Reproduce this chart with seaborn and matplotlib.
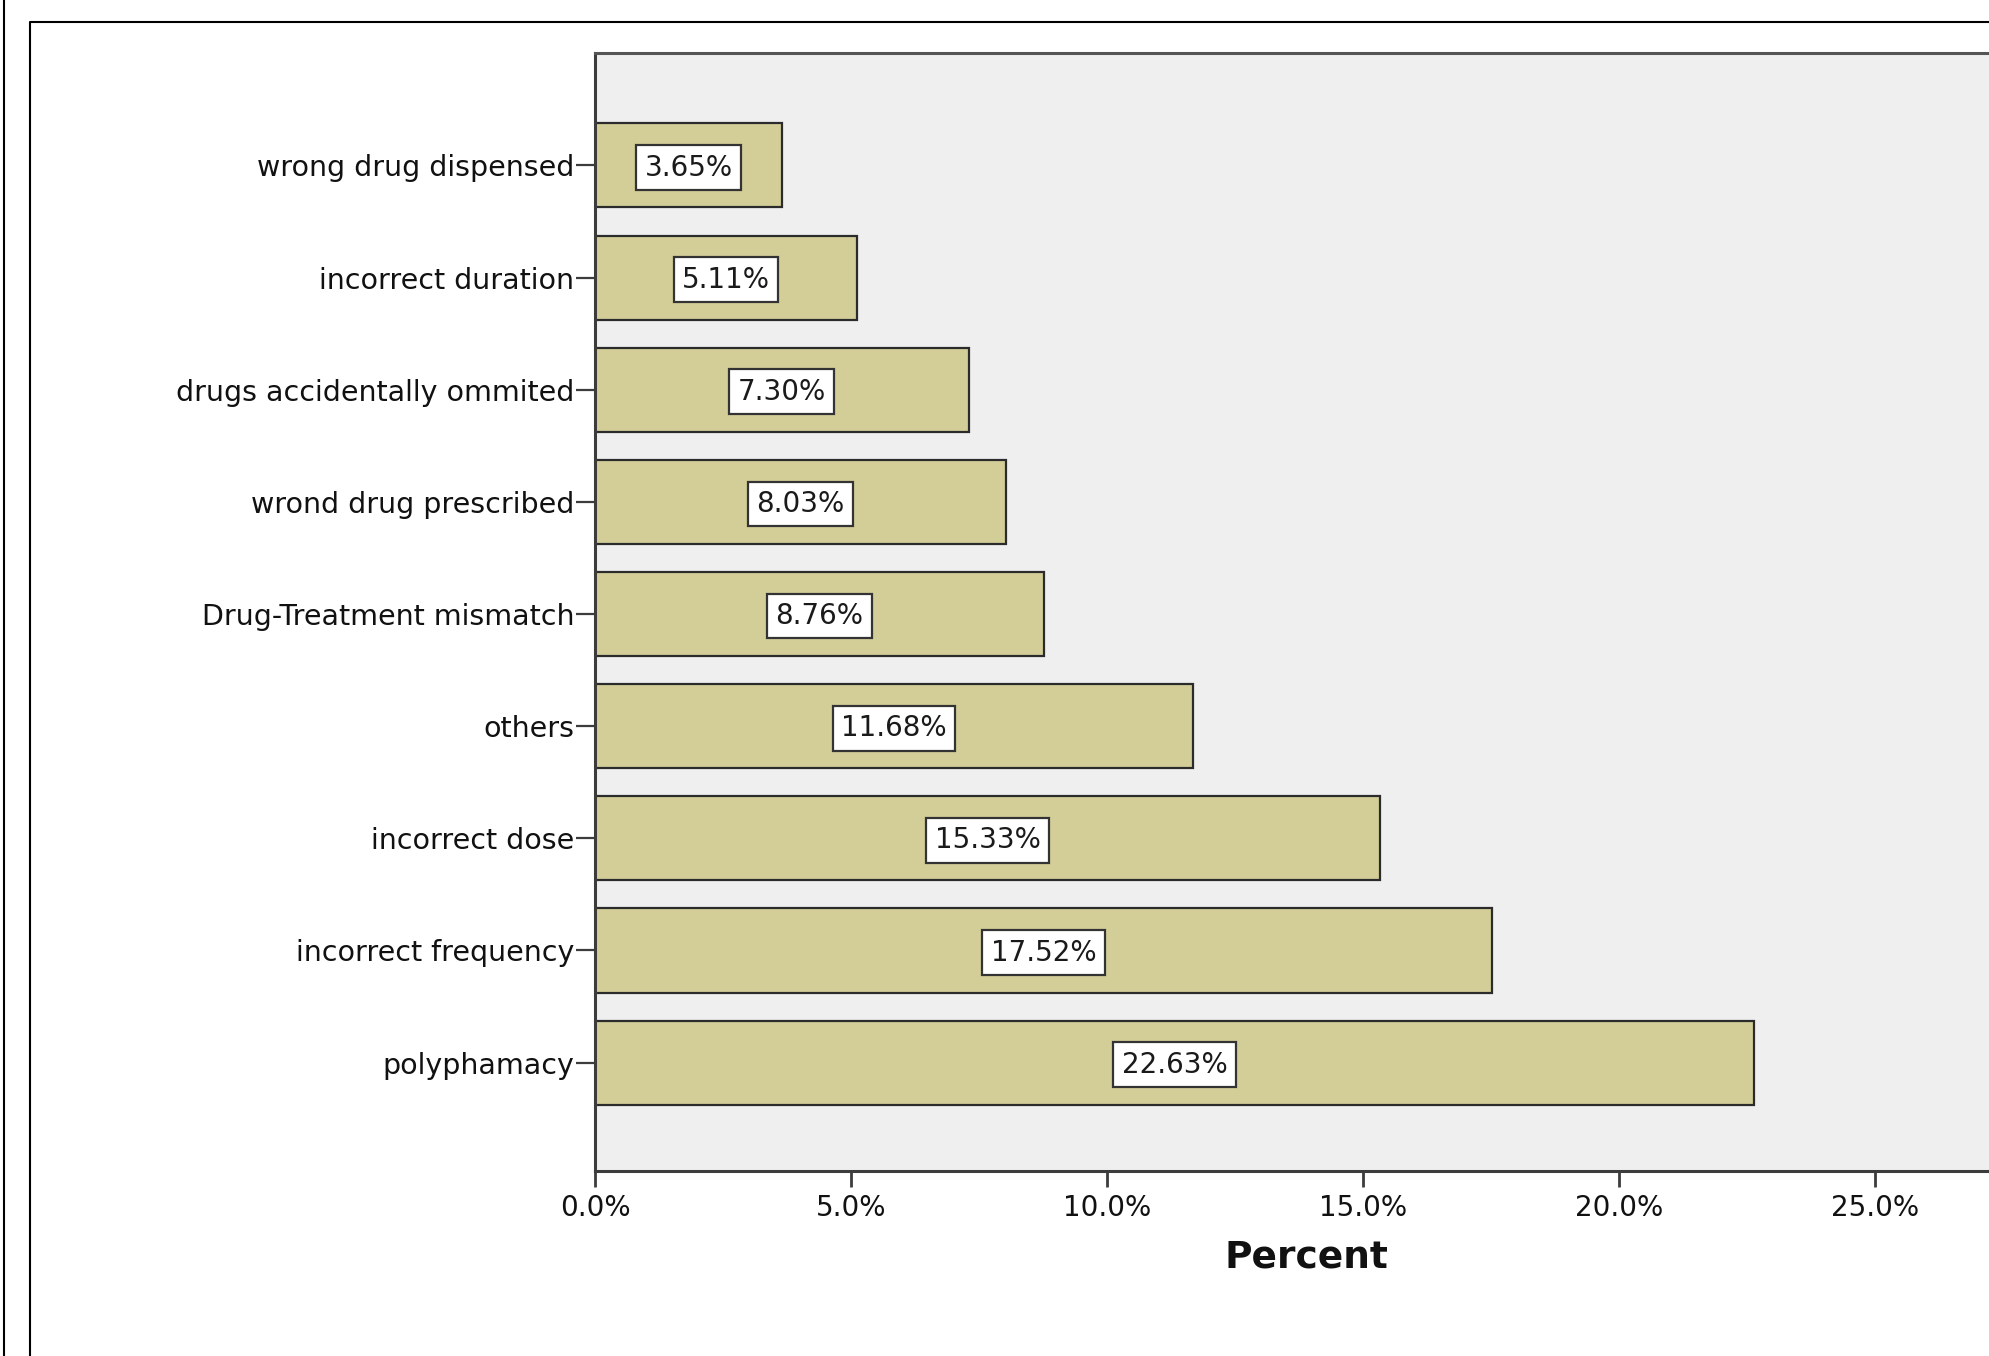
import matplotlib
matplotlib.use("Agg")
import matplotlib.pyplot as plt
from matplotlib.lines import Line2D
from matplotlib.ticker import PercentFormatter
import seaborn as sns

# Data (top to bottom)
categories = [
    "wrong drug dispensed",
    "incorrect duration",
    "drugs accidentally ommited",
    "wrond drug prescribed",
    "Drug-Treatment mismatch",
    "others",
    "incorrect dose",
    "incorrect frequency",
    "polyphamacy",
]
percents = [3.65, 5.11, 7.30, 8.03, 8.76, 11.68, 15.33, 17.52, 22.63]
x_ticks = [0, 5, 10, 15, 20, 25]

sns.set_style("white")
plt.rcParams["font.family"] = ["DejaVu Sans"]

bar_color = "#D3CE98"
edge_color = "#2b2b2b"
spine_color = "#3c3c3c"

fig = plt.figure(figsize=(19.9, 13.56), dpi=100)
# axes runs off the right edge like the cropped original
ax = fig.add_axes([0.2990, 0.1367, 0.772, 0.824])
ax.set_facecolor("#EFEFEF")

sns.barplot(x=percents, y=categories, orient="h", color=bar_color,
            saturation=1, width=0.75, edgecolor=edge_color, linewidth=1.6, ax=ax)

# value labels in white boxes at the middle of each bar
for i, v in enumerate(percents):
    ax.annotate(f"{v:.2f}%", (v / 2, i), xytext=(0, -1.5), textcoords="offset points",
                ha="center", va="center", fontsize=20, color="#1a1a1a",
                bbox=dict(boxstyle="square,pad=0.3", facecolor="white",
                          edgecolor="#333333", linewidth=1.6))

ax.set_xlim(0, 30)
ax.set_ylim(8.963, -1.0)
ax.set_xticks(x_ticks)
ax.xaxis.set_major_formatter(PercentFormatter(decimals=1))

ax.tick_params(axis="y", length=14, width=1.6, pad=1, labelsize=20.5,
               color=spine_color, labelcolor="#111111", left=True)
ax.tick_params(axis="x", length=11.5, width=2, pad=5, labelsize=20,
               color=spine_color, labelcolor="#111111", bottom=True)

for side in ["left", "bottom", "top"]:
    ax.spines[side].set_visible(True)
    ax.spines[side].set_color(spine_color)
    ax.spines[side].set_linewidth(2.2)
ax.spines["top"].set_color("#555555")
ax.spines["right"].set_visible(False)

ax.set_ylabel("")
ax.set_xlabel("Percent", fontsize=27, fontweight="bold", va="center", color="#111111")
ax.xaxis.set_label_coords(0.463, -0.078)

# outer frame lines of the exported chart
fig.add_artist(Line2D([0.00226, 0.00226], [0, 1], transform=fig.transFigure,
                      color="black", linewidth=1.5))
fig.add_artist(Line2D([0.0151, 0.0151, 1.0], [0, 0.984, 0.984], transform=fig.transFigure,
                      color="black", linewidth=1.5))

fig.savefig("out.png", dpi=100, facecolor="white")
